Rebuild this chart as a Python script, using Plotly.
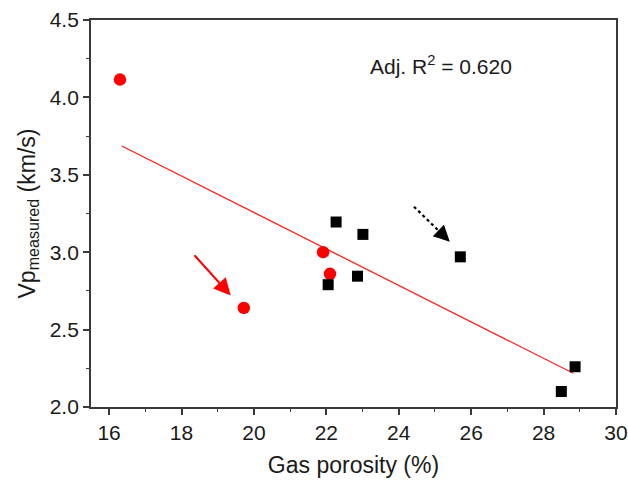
import plotly.graph_objects as go

# Samples shown as red circles
red_x = [16.3, 19.72, 21.91, 22.1]
red_y = [4.115, 2.64, 3.0, 2.86]

# Samples shown as black squares
black_x = [22.05, 22.27, 22.86, 23.01, 25.7, 28.49, 28.87]
black_y = [2.79, 3.195, 2.845, 3.115, 2.97, 2.10, 2.26]

# Linear fit (endpoints of the regression line)
fit_x = [16.35, 28.82]
fit_y = [3.686, 2.218]

# Arrow annotations: (tail x, tail y, tip x, tip y)
red_arrow = [18.32, 2.99, 19.36, 2.72]
black_arrow = [24.42, 3.294, 25.41, 3.068]

r2_text = "Adj. R<sup>2</sup> = 0.620"

FONT = "Liberation Sans, Arial, sans-serif"
AXIS_COLOR = "#3a3a3a"
TEXT_COLOR = "#1a1a1a"

# plot-area edges in pixels (used to place the R² label)
L, R, T, B = 91, 616, 20, 407

fig = go.Figure()

fig.add_trace(go.Scatter(
    x=fit_x, y=fit_y, mode="lines",
    line=dict(color="#ff2020", width=1.3),
    showlegend=False, hoverinfo="skip",
))

fig.add_trace(go.Scatter(
    x=red_x, y=red_y, mode="markers",
    marker=dict(symbol="circle", size=12.5, color="#ff0000"),
    showlegend=False,
))

fig.add_trace(go.Scatter(
    x=black_x, y=black_y, mode="markers",
    marker=dict(symbol="square", size=11, color="#000000"),
    showlegend=False,
))

# Dotted shaft of the black arrow (stops at the base of its head)
bx0, by0, bx1, by1 = black_arrow
frac = 0.70
fig.add_trace(go.Scatter(
    x=[bx0, bx0 + (bx1 - bx0) * frac],
    y=[by0, by0 + (by1 - by0) * frac],
    mode="lines",
    line=dict(color="#000000", width=2.2, dash="dot"),
    showlegend=False, hoverinfo="skip",
))

annotations = [
    # red solid arrow
    dict(x=red_arrow[2], y=red_arrow[3], ax=red_arrow[0], ay=red_arrow[1],
         xref="x", yref="y", axref="x", ayref="y", text="",
         showarrow=True, arrowhead=2, arrowsize=1.7, arrowwidth=2,
         arrowcolor="#ff0000"),
    # black arrow head only
    dict(x=bx1, y=by1,
         ax=bx0 + (bx1 - bx0) * frac, ay=by0 + (by1 - by0) * frac,
         xref="x", yref="y", axref="x", ayref="y", text="",
         showarrow=True, arrowhead=2, arrowsize=1.6, arrowwidth=2,
         arrowcolor="#000000"),
    dict(x=(441 - L) / (R - L), y=(B - 65) / (B - T),
         xref="paper", yref="paper", text=r2_text,
         xanchor="center", yanchor="middle",
         showarrow=False, font=dict(family=FONT, size=21, color=TEXT_COLOR)),
]

fig.update_layout(
    width=628, height=481,
    margin=dict(l=L, r=628 - R, t=T, b=481 - B),
    paper_bgcolor="white", plot_bgcolor="white",
    font=dict(family=FONT, size=21, color=TEXT_COLOR),
    annotations=annotations,
)

fig.update_xaxes(
    range=[15.5, 30], tickvals=[16, 18, 20, 22, 24, 26, 28, 30],
    ticks="outside", ticklen=6, tickwidth=1.5, tickcolor=AXIS_COLOR,
    minor=dict(dtick=1, tick0=0, ticks="outside", ticklen=3, tickwidth=1.2, tickcolor=AXIS_COLOR),
    showline=True, linecolor=AXIS_COLOR, linewidth=1.8, mirror=True,
    showgrid=False, zeroline=False, automargin=False,
    tickfont=dict(size=21),
    title=dict(text="Gas porosity (%)", font=dict(size=23), standoff=14),
)

fig.update_yaxes(
    range=[2.0, 4.5], tickvals=[2.0, 2.5, 3.0, 3.5, 4.0, 4.5],
    ticktext=["2.0", "2.5", "3.0", "3.5", "4.0", "4.5"],
    ticks="outside", ticklen=6, tickwidth=1.5, tickcolor=AXIS_COLOR,
    minor=dict(dtick=0.25, tick0=0, ticks="outside", ticklen=3, tickwidth=1.2, tickcolor=AXIS_COLOR),
    showline=True, linecolor=AXIS_COLOR, linewidth=1.8, mirror=True,
    showgrid=False, zeroline=False, automargin=False,
    tickfont=dict(size=21),
    title=dict(text="Vp<sub>measured</sub> (km/s)", font=dict(size=23), standoff=8),
)

fig.write_html("out.html")
